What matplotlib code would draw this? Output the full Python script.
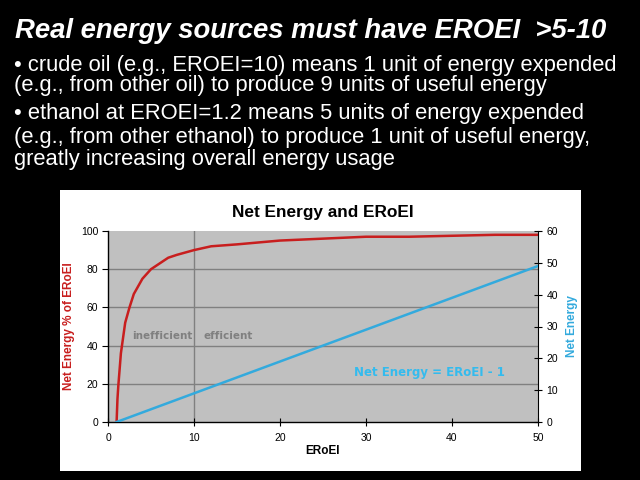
import matplotlib
matplotlib.use('Agg')
import matplotlib.pyplot as plt
from matplotlib.patches import Rectangle

# values
eroei = [1, 1.1, 1.2, 1.5, 2, 2.5, 3, 4, 5, 6, 7, 8, 10, 12, 15, 20, 25, 30, 35, 40, 45, 50]
net_pct = [0, 12, 19, 36, 52, 60, 67, 75, 80, 83, 86, 87.5, 90, 92, 93, 95, 96, 97, 97, 97.5, 98, 98]
net_energy = [0, 0.1, 0.2, 0.5, 1, 1.5, 2, 3, 4, 5, 6, 7, 9, 11, 14, 19, 24, 29, 34, 39, 44, 49]

x_ticks = [0, 10, 20, 30, 40, 50]
left_ticks = [0, 20, 40, 60, 80, 100]
right_ticks = [0, 10, 20, 30, 40, 50, 60]

slide_title = 'Real energy sources must have EROEI  >5-10'
bullets = [
    '\u2022 crude oil (e.g., EROEI=10) means 1 unit of energy expended',
    '(e.g., from other oil) to produce 9 units of useful energy',
    '\u2022 ethanol at EROEI=1.2 means 5 units of energy expended',
    '(e.g., from other ethanol) to produce 1 unit of useful energy,',
    'greatly increasing overall energy usage',
]
bullet_y = [65, 86, 113, 137, 160]

RED = '#c81e1e'
BLUE = '#33aadd'
W, H = 640, 480

plt.rcParams['font.family'] = ['Liberation Sans', 'DejaVu Sans']
fig = plt.figure(figsize=(6.4, 4.8), dpi=100, facecolor='black')

fig.text(15 / W, 1 - 31 / H, slide_title, color='white', fontsize=19.8,
         fontweight='bold', fontstyle='italic', va='center', ha='left')
for txt, y in zip(bullets, bullet_y):
    fig.text(14 / W, 1 - y / H, txt, color='white', fontsize=15.8, va='center', ha='left')

# white chart area
fig.add_artist(Rectangle((60 / W, 1 - 471 / H), 521 / W, 281 / H,
                         transform=fig.transFigure, facecolor='white', edgecolor='none', zorder=-1))

ax = fig.add_axes([108 / W, 1 - 422 / H, 430 / W, 191 / H])
ax.set_facecolor('#c0c0c0')
ax.plot(eroei, net_pct, color=RED, lw=1.8, zorder=3)
ax.set_xlim(0, 50)
ax.set_ylim(0, 100)
ax.set_xticks(x_ticks)
ax.set_yticks(left_ticks)
for v in left_ticks[1:-1]:
    ax.axhline(v, color='#808080', lw=1, zorder=1)
ax.axvline(10, color='#808080', lw=1, zorder=1)
for s in ['top', 'right']:
    ax.spines[s].set_visible(False)
ax.spines['left'].set_linewidth(1)
ax.spines['bottom'].set_linewidth(1)
ax.tick_params(axis='y', direction='out', length=4, labelsize=7.5, pad=3)
ax.tick_params(axis='x', direction='inout', length=6, labelsize=7.5, pad=5)
ax.set_ylabel('Net Energy % of ERoEI', color=RED, fontsize=8.5, fontweight='bold', labelpad=4)
ax.set_xlabel('ERoEI', fontsize=8.5, fontweight='bold', labelpad=1)
ax.set_title('Net Energy and ERoEI', fontsize=12.4, fontweight='bold', pad=10)

ax2 = ax.twinx()
ax2.plot(eroei, net_energy, color=BLUE, lw=1.8, zorder=3)
ax2.set_ylim(0, 60)
ax2.set_yticks(right_ticks)
for s in ['top', 'left', 'bottom']:
    ax2.spines[s].set_visible(False)
ax2.spines['right'].set_color('black')
ax2.tick_params(axis='y', direction='inout', length=6, labelsize=7.5, pad=3)
ax2.set_ylabel('Net Energy', color=BLUE, fontsize=8.5, fontweight='bold', labelpad=6)

ax.text(6.3, 45, 'inefficient', color='#808080', fontsize=7.5, fontweight='bold',
        family='DejaVu Sans', ha='center', va='center')
ax.text(14, 45, 'efficient', color='#808080', fontsize=7.5, fontweight='bold',
        family='DejaVu Sans', ha='center', va='center')
ax2.text(37.4, 15.7, 'Net Energy = ERoEI - 1', color='#33bbee', fontsize=8.5, fontweight='bold',
         family='DejaVu Sans', ha='center', va='center')

fig.savefig('out.png', dpi=100, facecolor='black')
